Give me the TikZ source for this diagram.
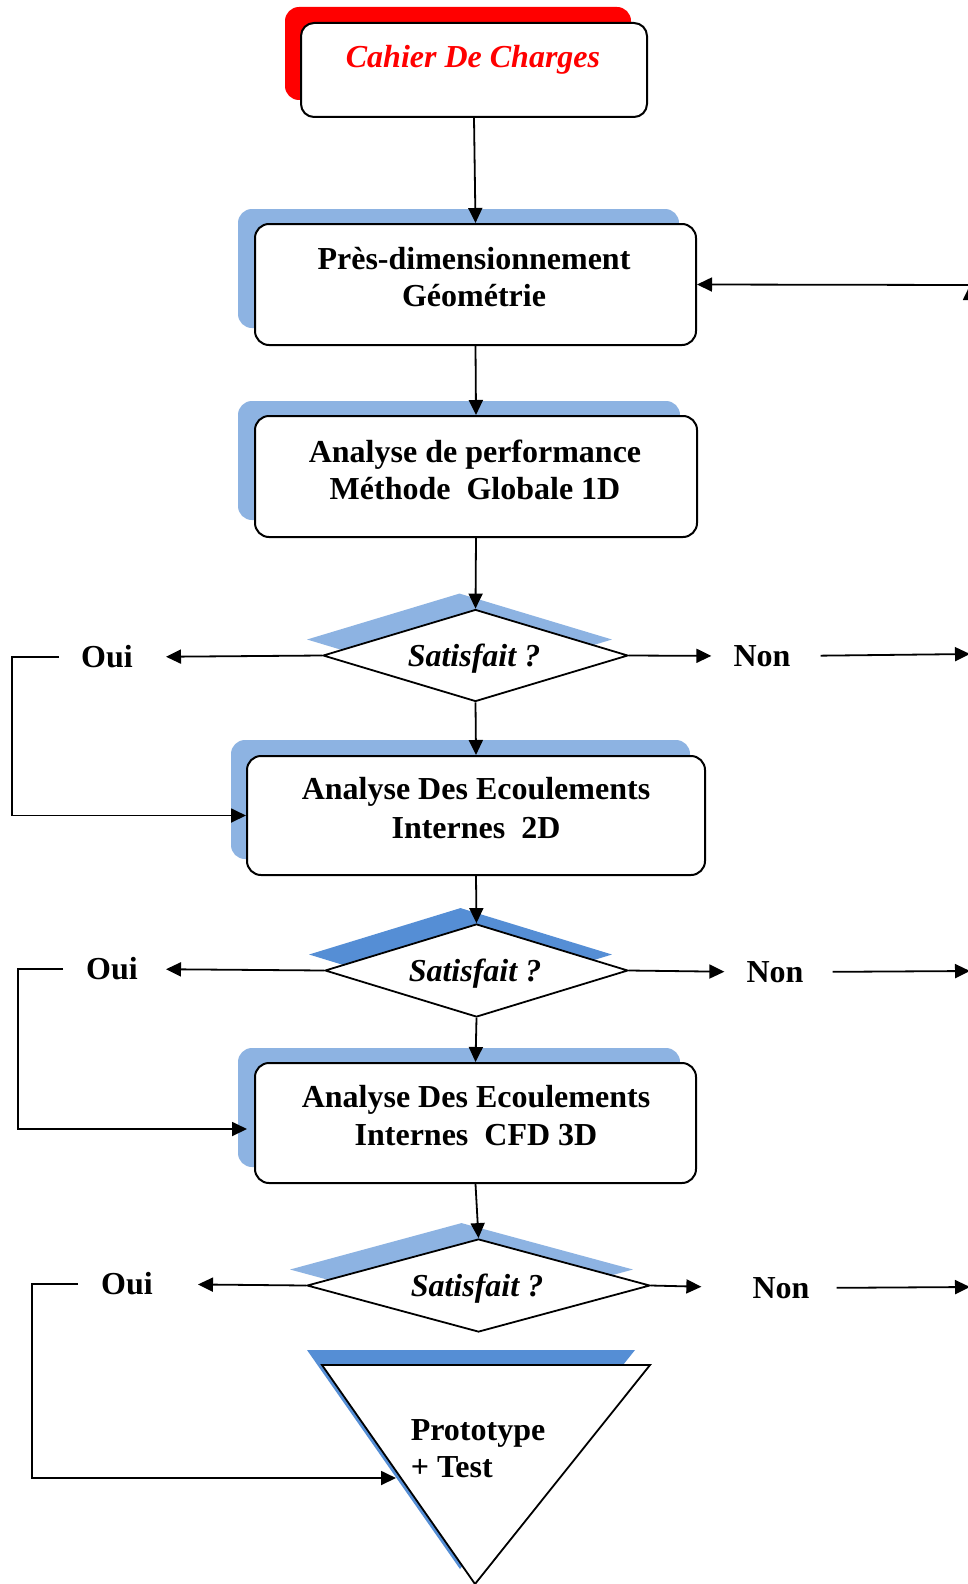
\documentclass[tikz,border=0pt]{standalone}
\usepackage{fontspec}
\setmainfont{Liberation Serif}
\usetikzlibrary{shapes.geometric,arrows.meta,calc}
\definecolor{shadowA}{HTML}{8DB3E2}
\definecolor{shadowB}{HTML}{558ED5}
\begin{document}
\begin{tikzpicture}[x=1pt,y=-1pt,
  every node/.style={font=\fontsize{32}{37}\selectfont\bfseries},
  boxnode/.style={draw=black,line width=2pt,fill=white,rounded corners=14pt,inner sep=0pt},
  shadowbox/.style={fill=#1,draw=none,rounded corners=14pt,inner sep=0pt},
  dnode/.style={diamond,draw=black,line width=1.8pt,fill=white,inner sep=0pt},
  dshadow/.style={diamond,fill=#1,draw=none,inner sep=0pt},
  conn/.style={line width=1.8pt,-{Triangle[length=15pt,width=14pt]}},
  lbl/.style={inner sep=0pt,align=center},
  itlbl/.style={inner sep=0pt,font=\fontsize{32}{37}\selectfont\bfseries\itshape}
]
\useasboundingbox (0,0) rectangle (968,1584);
\fill[white] (0,0) rectangle (968,1584);

% top box
\node[shadowbox=red, minimum width=346pt, minimum height=93pt] (s1) at (458,53.5) {};
\node[boxnode, rounded corners=13pt, minimum width=346pt, minimum height=94pt] (b1) at (474,70) {};
\node[itlbl, text=red] (t1) at (473,60) {Cahier De Charges};

% box 2
\node[shadowbox=shadowA, minimum width=441pt, minimum height=119pt] (s2) at (458.5,268.5) {};
\node[boxnode, minimum width=441pt, minimum height=121pt] (b2) at (475.5,284.5) {};
\node[lbl] (t2) at (474,277.5) {Près-dimensionnement\\Géométrie};

% box 3
\node[shadowbox=shadowA, minimum width=442pt, minimum height=119pt] (s3) at (459,460.5) {};
\node[boxnode, minimum width=442pt, minimum height=121pt] (b3) at (476,476.5) {};
\node[lbl] (t3) at (475,469.5) {Analyse de performance\\Méthode\ \ Globale 1D};

% diamond 1
\node[dshadow=shadowA, minimum width=305pt, minimum height=92pt] (ds1) at (459.5,639.5) {};
\node[dnode, minimum width=305pt, minimum height=92pt] (d1) at (475.5,655.5) {};
\node[itlbl] (dt1) at (474,659) {Satisfait ?};

% box 4
\node[shadowbox=shadowA, minimum width=459pt, minimum height=119pt] (s4) at (460.5,799.5) {};
\node[boxnode, minimum width=458pt, minimum height=119pt] (b4) at (476,815.5) {};
\node[lbl, font=\fontsize{32}{39}\selectfont\bfseries] (t4) at (476,808.5) {Analyse Des Ecoulements\\Internes\ \ 2D};

% diamond 2
\node[dshadow=shadowB, minimum width=303pt, minimum height=93pt] (ds2) at (460.5,954.5) {};
\node[dnode, minimum width=303pt, minimum height=93pt] (d2) at (476.5,970.5) {};
\node[itlbl] (dt2) at (475,974) {Satisfait ?};

% box 5
\node[shadowbox=shadowA, minimum width=442pt, minimum height=119pt] (s5) at (459,1107.5) {};
\node[boxnode, minimum width=441pt, minimum height=120pt] (b5) at (475.5,1123) {};
\node[lbl, font=\fontsize{32}{38}\selectfont\bfseries] (t5) at (476,1116) {Analyse Des Ecoulements\\Internes\ \ CFD 3D};

% diamond 3
\node[dshadow=shadowA, minimum width=343pt, minimum height=93pt] (ds3) at (461.5,1269.5) {};
\node[dnode, minimum width=343pt, minimum height=93pt] (d3) at (478.5,1285.5) {};
\node[itlbl] (dt3) at (477,1289) {Satisfait ?};

% triangle
\coordinate (ts1) at (307,1350);
\coordinate (ts2) at (635,1350);
\coordinate (ts3) at (460,1569);
\fill[shadowB] (ts1) -- (ts2) -- (ts3) -- cycle;
\coordinate (tr1) at (322,1365);
\coordinate (tr2) at (650,1365);
\coordinate (tr3) at (475,1584);
\draw[line width=1.8pt, fill=white, line join=miter] (tr1) -- (tr2) -- (tr3) -- cycle;
\node[inner sep=0pt, align=left] (tt) at (478,1449) {Prototype\\+ Test};

% labels
\node[inner sep=0pt] (o1) at (107,657) {Oui};
\node[inner sep=0pt] (o2) at (112,969) {Oui};
\node[inner sep=0pt] (o3) at (127,1284) {Oui};
\node[inner sep=0pt] (n1) at (762,656) {Non};
\node[inner sep=0pt] (n2) at (775,972) {Non};
\node[inner sep=0pt] (n3) at (781,1288) {Non};

% main flow
\draw[conn] (b1.south) -- (b2.north);
\draw[conn] (b2.south) -- (b3.north);
\draw[conn] (b3.south) -- (d1.north);
\draw[conn] (d1.south) -- (b4.north);
\draw[conn] (b4.south) -- (d2.north);
\draw[conn] (d2.south) -- (b5.north);
\draw[conn] (b5.south) -- (d3.north);

% Oui branches
\draw[conn, shorten >=33pt] (d1.west) -- (o1.east);
\draw[conn, shorten >=28pt] (d2.west) -- (o2.east);
\draw[conn, shorten >=45pt] (d3.west) -- (o3.east);
\coordinate (L1) at (12,657);
\coordinate (L2) at (18,969);
\coordinate (L3) at (32,1284);
\coordinate (E2) at (247,1129);
\coordinate (E3) at (396,1478);
\draw[conn, shorten <=22pt] (o1.west) -- (L1) |- (b4.west);
\draw[conn, shorten <=23pt] (o2.west) -- (L2) |- (E2);
\draw[conn, shorten <=23pt] (o3.west) -- (L3) |- (E3);

% Non branches
\draw[conn, shorten >=22pt] (d1.east) -- (n1.west);
\draw[conn, shorten >=22pt] (d2.east) -- (n2.west);
\draw[conn, shorten >=51pt] (d3.east) -- (n3.west);
\coordinate (R0) at (970,285);
\coordinate (R1) at (970,654);
\coordinate (R2) at (970,971);
\coordinate (R3) at (970,1287);
\draw[conn, shorten <=30pt] (n1.east) -- (R1);
\draw[conn, shorten <=29pt] (n2.east) -- (R2);
\draw[conn, shorten <=27pt] (n3.east) -- (R3);
\draw[conn] (R3) -- (R0);
\draw[conn] (R0) -- (b2.east);
\end{tikzpicture}
\end{document}
